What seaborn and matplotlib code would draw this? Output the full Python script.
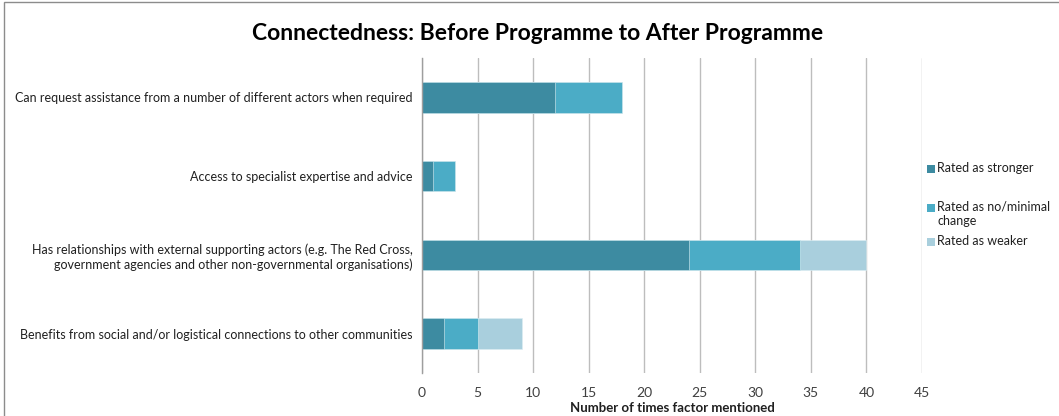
import matplotlib
matplotlib.use("Agg")
import matplotlib.pyplot as plt
from matplotlib.patches import Rectangle
import numpy as np
import pandas as pd
import seaborn as sns

categories = [
    "Can request assistance from a number of different actors when required",
    "Access to specialist expertise and advice",
    "Has relationships with external supporting actors (e.g. The Red Cross,\ngovernment agencies and other non-governmental organisations)",
    "Benefits from social and/or logistical connections to other communities",
]
stronger = [12, 1, 24, 2]
no_change = [6, 2, 10, 3]
weaker = [0, 0, 6, 4]

series_names = ["Rated as stronger", "Rated as no/minimal\nchange", "Rated as weaker"]
colors = ["#3D8BA1", "#4BACC6", "#A9CFDD"]

sns.set_theme(style="white")
plt.rcParams["font.family"] = ["Lato", "DejaVu Sans"]

df = pd.DataFrame({"category": categories, "stronger": stronger,
                   "no_change": no_change, "weaker": weaker})
df["c1"] = df["stronger"]
df["c2"] = df["c1"] + df["no_change"]
df["c3"] = df["c2"] + df["weaker"]

W, H = 1059, 416
fig = plt.figure(figsize=(W / 100, H / 100), dpi=100)
ax = fig.add_axes([422 / W, 43 / H, 500 / W, 315 / H])

# stacked bars: draw cumulative totals, outermost layer first
for col, color in zip(["c3", "c2", "c1"], colors[::-1]):
    sns.barplot(data=df, x=col, y="category", orient="h", color=color,
                width=0.39, ax=ax, saturation=1, edgecolor="#DDEEF3", linewidth=0.4)

ax.set_xlim(0, 45)
ax.set_ylim(len(categories) - 0.5, -0.5)
ax.set_xticks(np.arange(0, 50, 5))
ax.xaxis.grid(True, color="#BDBDBD", linewidth=1)
ax.set_axisbelow(True)
for s in ["top", "right", "bottom"]:
    ax.spines[s].set_visible(False)
ax.spines["left"].set_color("#9E9E9E")
ax.spines["left"].set_linewidth(1)

ax.tick_params(axis="x", length=0, labelsize=10, labelcolor="#404040", pad=10)
ax.tick_params(axis="y", length=0, labelsize=9.0, labelcolor="#202020", pad=7)
ax.set_yticks(range(len(categories)))
ax.set_yticklabels(categories, ha="right")
ax.set_yticks(np.arange(-0.5, len(categories), 1), minor=True)
ax.tick_params(axis="y", which="minor", length=4, color="#9E9E9E", width=1)

ax.set_xlabel("Number of times factor mentioned", fontsize=9.5, fontweight="bold",
              color="#202020", labelpad=2)
ax.set_ylabel("")

fig.text(538 / W, 1 - 33 / H, "Connectedness: Before Programme to After Programme",
         ha="center", va="center", fontsize=16.5, fontweight="bold", color="#000000")

# legend entries: square key plus label
legend_rows = [169, 208, 242]
for name, color, y in zip(series_names, colors, legend_rows):
    fig.patches.append(Rectangle((927 / W, 1 - (y + 4) / H), 8 / W, 8 / H,
                                 transform=fig.transFigure, facecolor=color,
                                 edgecolor="none"))
    fig.text(937 / W, 1 - (y - 7) / H, name, ha="left", va="top",
             fontsize=9.0, color="#202020", linespacing=1.25)

fig.patches.append(Rectangle((4 / W, -0.1), 1.2, 1 - 2 / H + 0.1,
                             transform=fig.transFigure, fill=False,
                             edgecolor="#8C8C8C", linewidth=1))

fig.savefig("out.png", dpi=100)
